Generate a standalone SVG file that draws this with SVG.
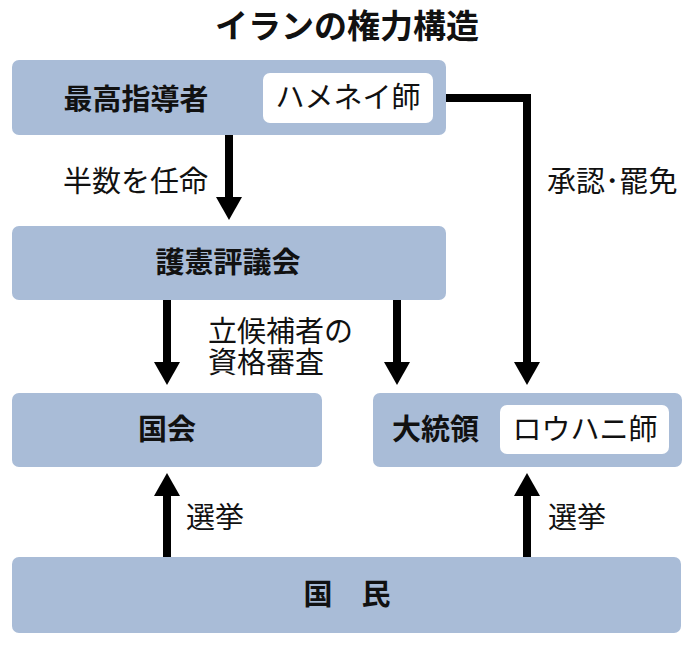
<svg xmlns="http://www.w3.org/2000/svg" width="696" height="649" viewBox="0 0 696 649">
  <defs>
    <marker id="ah" markerUnits="userSpaceOnUse" markerWidth="24" markerHeight="26" refX="0" refY="13" orient="auto" overflow="visible">
      <path d="M0,0 L23,13 L0,26 Z" fill="#000"/>
    </marker>
  </defs>
  <style>
    .box { fill: #a9bcd7; }
    .wbox { fill: #ffffff; }
    .t { font-family: "Noto Sans CJK JP", "Noto Sans CJK SC", sans-serif; fill: #111; }
    .b { font-size: 29px; font-weight: bold; }
    .r { font-size: 29px; font-weight: normal; }
    .title { font-size: 33px; font-weight: bold; }
    .c { text-anchor: middle; }
    .ln { fill: none; stroke: #000; stroke-width: 8; stroke-linejoin: miter; }
  </style>
  <rect width="696" height="649" fill="#fff"/>
  <text class="t title c" x="347" y="38">イランの権力構造</text>

  <g id="supreme-leader">
    <rect class="box" x="12" y="60" width="434" height="75" rx="7"/>
    <text class="t b c" x="136" y="110">最高指導者</text>
    <rect class="wbox" x="263" y="73" width="170" height="50" rx="7"/>
    <text class="t r c" x="348" y="108">ハメネイ師</text>
  </g>

  <g id="guardian-council">
    <rect class="box" x="12" y="226" width="434" height="74" rx="7"/>
    <text class="t b c" x="228" y="273">護憲評議会</text>
  </g>

  <g id="parliament">
    <rect class="box" x="12" y="393" width="310" height="74" rx="7"/>
    <text class="t b c" x="167" y="440">国会</text>
  </g>

  <g id="president">
    <rect class="box" x="373" y="393" width="309" height="74" rx="7"/>
    <text class="t b" x="392" y="440">大統領</text>
    <rect class="wbox" x="500" y="405" width="169" height="49" rx="7"/>
    <text class="t r c" x="585" y="440">ロウハニ師</text>
  </g>

  <g id="people">
    <rect class="box" x="12" y="557" width="669" height="76" rx="7"/>
    <text class="t b c" x="347" y="605">国　民</text>
  </g>

  <g id="connectors">
    <path class="ln" d="M229,135 V197" marker-end="url(#ah)"/>
    <path class="ln" d="M167,300 V362" marker-end="url(#ah)"/>
    <path class="ln" d="M397,300 V362" marker-end="url(#ah)"/>
    <path class="ln" d="M446,98 H527 V362" marker-end="url(#ah)"/>
    <path class="ln" d="M167,557 V496" marker-end="url(#ah)"/>
    <path class="ln" d="M527,557 V496" marker-end="url(#ah)"/>
    <text class="t r" x="63" y="192">半数を任命</text>
    <text class="t r" x="547" y="192">承認･罷免</text>
    <text class="t r" x="208" y="342">立候補者の</text>
    <text class="t r" x="208" y="373">資格審査</text>
    <text class="t r" x="186" y="528">選挙</text>
    <text class="t r" x="548" y="528">選挙</text>
  </g>
</svg>
